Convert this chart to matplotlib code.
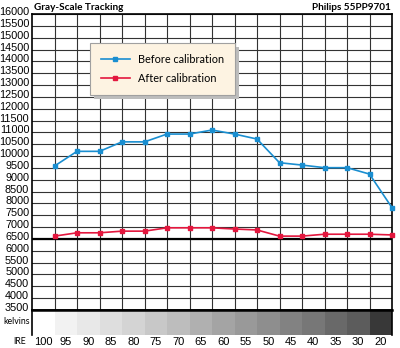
import matplotlib.pyplot as plt
import numpy as np
from matplotlib.transforms import ScaledTranslation

plt.rcParams['font.family'] = ['Liberation Sans', 'DejaVu Sans']

ire = ["100", "95", "90", "85", "80", "75", "70", "65", "60", "55", "50", "45", "40", "35", "30", "20"]
before = [9580, 10200, 10200, 10600, 10600, 10930, 10930, 11100, 10930, 10720, 9720, 9620, 9510, 9510, 9240, 7820]
after = [6620, 6760, 6760, 6830, 6830, 6970, 6970, 6970, 6920, 6880, 6620, 6620, 6700, 6700, 6700, 6670]
yticks = np.arange(3500, 16001, 500)
target = 6500

# gray level of each IRE step in the strip under the chart
strip_gray = [1.0, 0.95, 0.91, 0.87, 0.83, 0.785, 0.74, 0.69, 0.645, 0.60, 0.555, 0.51, 0.465, 0.41, 0.36, 0.22]

c_before = "#1a8ed0"
c_after = "#e3173e"
W, H = 400, 348

fig = plt.figure(figsize=(W / 100, H / 100), dpi=100)
ax = fig.add_axes([32 / W, 1 - 310 / H, 360 / W, 296 / H])

n = len(ire)
xs = np.arange(1, n + 1)
ax.plot(xs, before, color=c_before, lw=1.2, marker="s", ms=3.4, label="Before calibration", zorder=4, clip_on=False)
ax.plot(xs, after, color=c_after, lw=1.2, marker="s", ms=3.4, label="After calibration", zorder=4, clip_on=False)

ax.set_xlim(0, n)
ax.set_ylim(3500, 16000)
ax.set_xticks(np.arange(1, n))
ax.set_xticklabels([])
ax.set_yticks(yticks)
ax.set_yticklabels(["%d" % v for v in yticks], fontsize=7.8)
ax.tick_params(length=0, pad=2)
ax.grid(True, color="#333333", lw=0.8, zorder=1)
ax.set_axisbelow(True)
ax.axhline(target, color="black", lw=1.6, zorder=2)
for s in ax.spines.values():
    s.set_linewidth(1.2)
for lab in ax.get_yticklabels():
    lab.set_transform(lab.get_transform() + ScaledTranslation(0, 0.03, fig.dpi_scale_trans))

leg_top = 267 / 296
leg = ax.legend(loc="upper left", bbox_to_anchor=(58 / 360, leg_top - 0.3, 145 / 360, 0.3),
                mode="expand", borderaxespad=0, fancybox=False,
                shadow={"ox": 3, "oy": -3, "facecolor": "#bdbdbd", "edgecolor": "none", "alpha": 1},
                prop={"family": "Lato", "size": 7.8}, handlelength=2.7, handletextpad=0.75,
                labelspacing=0.75, borderpad=1.0, framealpha=1)
leg.get_frame().set_facecolor("#fdf3e2")
leg.get_frame().set_edgecolor("#a0a0a0")
leg.get_frame().set_linewidth(0.8)
leg.set_zorder(6)

fig.text(34 / W, 1 - 7 / H, "Gray-Scale Tracking", fontsize=7.2, fontweight="bold",
         family="Lato", ha="left", va="center")
fig.text(391 / W, 1 - 7 / H, "Philips 55PP9701", fontsize=7.2, fontweight="bold",
         family="Lato", ha="right", va="center")

# IRE gray-step strip
ax2 = fig.add_axes([32 / W, 1 - 335 / H, 360 / W, 25 / H])
ax2.bar(np.arange(n) + 0.5, np.ones(n), width=1.0, color=[str(g) for g in strip_gray], linewidth=0)
ax2.set_xlim(0, n)
ax2.set_ylim(0, 1)
ax2.set_yticks([])
ax2.set_xticks(np.arange(n) + 0.5)
ax2.set_xticklabels(ire, fontsize=8)
ax2.tick_params(length=0, pad=1.5)
for s in ax2.spines.values():
    s.set_linewidth(1.2)
ax2.spines["top"].set_linewidth(1.8)
ax2.spines["bottom"].set_visible(False)

fig.text(30 / W, 1 - 322 / H, "kelvins", fontsize=6.3, family="Lato", ha="right", va="center")
fig.text(20 / W, 1 - 341 / H, "IRE", fontsize=6.3, family="Lato", ha="center", va="center")

fig.savefig("out.png", dpi=100)
